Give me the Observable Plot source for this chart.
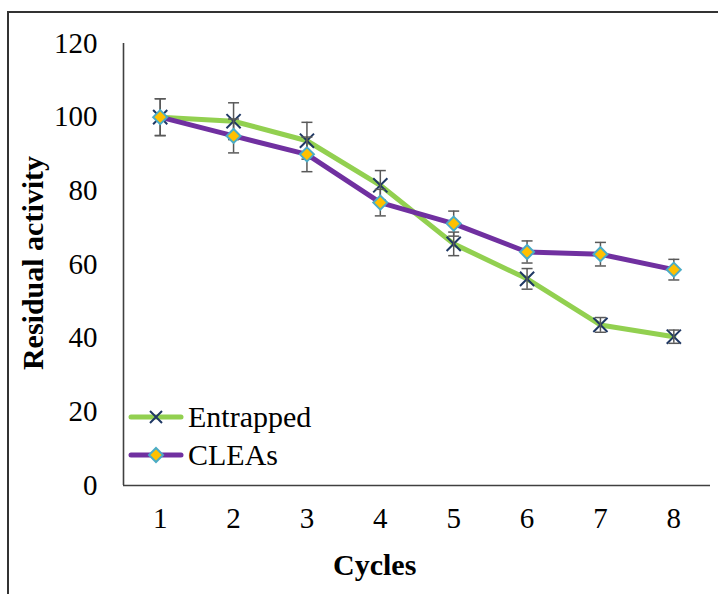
<!DOCTYPE html>
<html>
<head>
<meta charset="utf-8">
<script src="https://cdn.jsdelivr.net/npm/d3@7"></script>
<script src="https://cdn.jsdelivr.net/npm/@observablehq/plot@0.6"></script>
<style>
  html, body { margin: 0; padding: 0; background: #fff; }
  #wrap { position: relative; width: 718px; height: 594px; overflow: hidden; font-family: "Liberation Serif", "Times New Roman", serif; }
  #frame { position: absolute; left: 7px; top: 11px; width: 760px; height: 700px; border-left: 2px solid #333; border-top: 2px solid #333; box-sizing: border-box; }
  #chart { position: absolute; left: 0; top: 0; }
  #chart svg, #chart svg text { font-family: "Liberation Serif", "Times New Roman", serif !important; font-variant: normal !important; font-variant-numeric: normal !important; }
  .title { position: absolute; font-weight: bold; font-size: 30px; color: #000; white-space: nowrap; }
  #xlab { left: 333px; top: 548px; }
  #ylab { left: 33px; top: 263px; transform: translate(-50%, -50%) rotate(-90deg); transform-origin: center; }
  #legend { position: absolute; left: 128px; top: 398px; font-size: 30px; color: #000; }
  .item { display: flex; align-items: center; height: 38px; }
  .item svg { margin-right: 4px; }
</style>
</head>
<body>
<div id="wrap">
  <div id="frame"></div>
  <div id="chart"></div>
  <div class="title" id="xlab">Cycles</div>
  <div class="title" id="ylab">Residual activity</div>
  <div id="legend">
    <div class="item">
      <svg width="56" height="20"><line x1="3" y1="10" x2="53" y2="10" stroke="#92D050" stroke-width="5" stroke-linecap="round"/><path d="M22,4L34,16M34,4L22,16" stroke="#1F3864" stroke-width="2"/></svg>
      <span>Entrapped</span>
    </div>
    <div class="item">
      <svg width="56" height="20"><line x1="3" y1="10" x2="53" y2="10" stroke="#7030A0" stroke-width="5" stroke-linecap="round"/><path d="M28,3L35,10L28,17L21,10Z" fill="#FFC000" stroke="#4BACC6" stroke-width="2"/></svg>
      <span>CLEAs</span>
    </div>
  </div>
</div>
<script>
const cycles = [1, 2, 3, 4, 5, 6, 7, 8];
const entrapped = [100, 98.9, 93.6, 81.5, 65.6, 56.1, 43.6, 40.4];
const entrappedErr = [5, 5, 5, 4, 3.2, 2.8, 2, 1.8];
const cleas = [100, 94.9, 89.9, 76.8, 71.1, 63.4, 62.8, 58.6];
const cleasErr = [5, 4.6, 4.7, 3.6, 3.4, 3, 3.2, 2.8];
const yTicks = [0, 20, 40, 60, 80, 100, 120];

const seriesNames = ["Entrapped", "CLEAs"];
const rows = [];
cycles.forEach((c, i) => {
  rows.push({ cycle: c, value: entrapped[i], err: entrappedErr[i], series: seriesNames[0] });
});
cycles.forEach((c, i) => {
  rows.push({ cycle: c, value: cleas[i], err: cleasErr[i], series: seriesNames[1] });
});
const ent = rows.filter(d => d.series === "Entrapped");
const cle = rows.filter(d => d.series === "CLEAs");

const capSymbol = {
  draw(ctx, size) {
    const w = Math.sqrt(size / Math.PI);
    ctx.moveTo(-w, 0);
    ctx.lineTo(w, 0);
  }
};
const diamondSymbol = {
  draw(ctx, size) {
    const h = Math.sqrt(size / Math.PI);
    ctx.moveTo(0, -h);
    ctx.lineTo(h, 0);
    ctx.lineTo(0, h);
    ctx.lineTo(-h, 0);
    ctx.closePath();
  }
};

const font = "Liberation Serif";
const errColor = "#595959";

const plot = Plot.plot({
  width: 718,
  height: 594,
  marginLeft: 123,
  marginTop: 43,
  marginBottom: 109,
  marginRight: 8,
  style: { fontFamily: font, background: "transparent", overflow: "visible" },
  x: { domain: [0.5, 8.5], label: null },
  y: { domain: [0, 120], label: null },
  marks: [
    Plot.axisY({ ticks: yTicks, tickSize: 0, tickPadding: 26, fontSize: 29, fontFamily: font, fontVariant: "normal", tickFormat: d => String(d), fill: "#000" }),
    Plot.axisX({ ticks: cycles, tickSize: 0, tickPadding: 22, fontSize: 29, fontFamily: font, fontVariant: "normal", tickFormat: d => String(d), fill: "#000" }),
    Plot.ruleX([0.5], { stroke: "#404040", strokeWidth: 1.6 }),
    Plot.ruleY([0], { stroke: "#404040", strokeWidth: 1.6 }),
    // Entrapped series
    Plot.line(ent, { x: "cycle", y: "value", stroke: "#92D050", strokeWidth: 5, strokeLinejoin: "round", strokeLinecap: "round" }),
    Plot.dot(ent, { x: "cycle", y: "value", symbol: "times", r: 6.5, stroke: "#1F3864", strokeWidth: 2 }),
    Plot.ruleX(ent, { x: "cycle", y1: d => d.value - d.err, y2: d => d.value + d.err, stroke: errColor, strokeWidth: 1.5 }),
    Plot.dot(ent, { x: "cycle", y: d => d.value + d.err, symbol: capSymbol, r: 5.5, stroke: errColor, strokeWidth: 1.5, fill: "none" }),
    Plot.dot(ent, { x: "cycle", y: d => d.value - d.err, symbol: capSymbol, r: 5.5, stroke: errColor, strokeWidth: 1.5, fill: "none" }),
    // CLEAs series
    Plot.line(cle, { x: "cycle", y: "value", stroke: "#7030A0", strokeWidth: 5, strokeLinejoin: "round", strokeLinecap: "round" }),
    Plot.ruleX(cle, { x: "cycle", y1: d => d.value - d.err, y2: d => d.value + d.err, stroke: errColor, strokeWidth: 1.5 }),
    Plot.dot(cle, { x: "cycle", y: d => d.value + d.err, symbol: capSymbol, r: 5.5, stroke: errColor, strokeWidth: 1.5, fill: "none" }),
    Plot.dot(cle, { x: "cycle", y: d => d.value - d.err, symbol: capSymbol, r: 5.5, stroke: errColor, strokeWidth: 1.5, fill: "none" }),
    Plot.dot(cle, { x: "cycle", y: "value", symbol: diamondSymbol, r: 7, fill: "#FFC000", stroke: "#4BACC6", strokeWidth: 2 })
  ]
});
document.getElementById("chart").appendChild(plot);
</script>
</body>
</html>
